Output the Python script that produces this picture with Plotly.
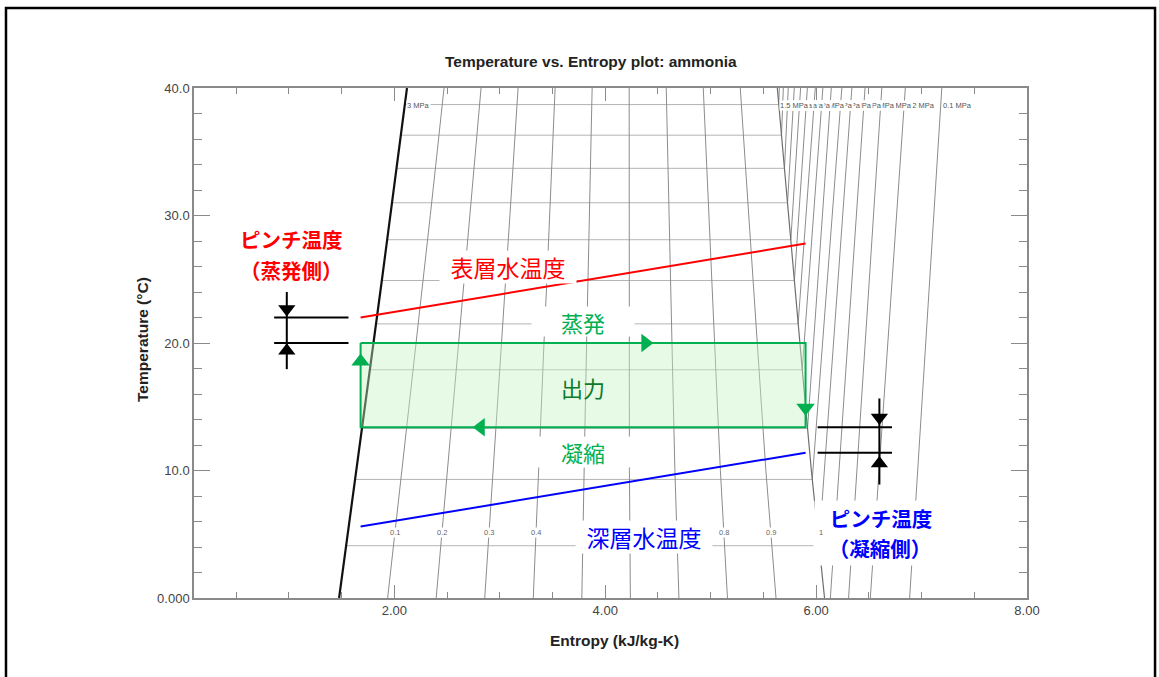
import numpy as np
import plotly.graph_objects as go

# ---------------- data ----------------
# saturation dome of ammonia: temperature (°C) vs entropy (kJ/kg-K)
sat_T = [0, 5, 10, 15, 20, 25, 30, 35, 40]
sat_s_liq = [1.476, 1.559, 1.641, 1.722, 1.802, 1.883, 1.963, 2.042, 2.120]
sat_s_vap = [6.080, 6.015, 5.955, 5.900, 5.845, 5.793, 5.740, 5.686, 5.632]

# constant-quality lines
quality_levels = [0.1, 0.2, 0.3, 0.4, 0.5, 0.6, 0.7, 0.8, 0.9]
quality_labels = ["0.1", "0.2", "0.3", "0.4", "0.5", "0.6", "0.7", "0.8", "0.9"]
vapour_label = "1"
quality_label_T = 5.1

# isobars (MPa): saturation temperature, entropy where they leave the top (40 °C)
isobar_MPa = [1.5, 1.4, 1.3, 1.2, 1.1, 1.0, 0.9, 0.8, 0.7, 0.6, 0.5, 0.4, 0.3, 0.2, 0.1]
isobar_Tsat = [38.7, 36.3, 33.7, 31.0, 28.1, 24.9, 21.5, 17.9, 13.3, 9.3, 4.1,
               -1.9, -9.2, -18.9, -33.6]
isobar_s_top = [5.651, 5.689, 5.736, 5.793, 5.853, 5.917, 5.992, 6.064, 6.144,
                6.244, 6.339, 6.464, 6.623, 6.846, 7.192]
# entropy at 0 °C for isobars whose saturation temperature is below 0 °C
isobar_s_0C = {0.4: 6.135, 0.3: 6.308, 0.2: 6.514, 0.1: 6.887}
liquid_isobar_label = "3 MPa"

# OTEC cycle
cycle_s = [1.68, 5.90]
evap_T = 20.0
cond_T = 13.4
surface_T = [22.0, 27.8]
deep_T = [5.6, 11.4]

T_top = 40.0
x_range = [0.1, 8.0]
y_range = [0.0, 40.0]

LATIN = "Arial, Liberation Sans, sans-serif"
CJK = "Noto Sans CJK JP, sans-serif"

GREEN = "#00b050"
RED = "#ff0000"
BLUE = "#0000ff"

fig = go.Figure()


def s_liq(T):
    return float(np.interp(T, sat_T, sat_s_liq))


def s_vap(T):
    return float(np.interp(T, sat_T, sat_s_vap))


def add_line(xs, ys, color, width):
    fig.add_trace(go.Scatter(x=xs, y=ys, mode="lines",
                             line=dict(color=color, width=width),
                             hoverinfo="skip", showlegend=False))


# isobars inside the dome (horizontal)
for p, Ts in zip(isobar_MPa, isobar_Tsat):
    if 0 <= Ts <= T_top:
        add_line([s_liq(Ts), s_vap(Ts)], [Ts, Ts], "#b4b4b4", 1)

# quality lines
for q in quality_levels:
    xs = [s_liq(T) + q * (s_vap(T) - s_liq(T)) for T in sat_T]
    add_line(xs, sat_T, "#8c8c8c", 1)

# superheated isobars
for p, Ts, st in zip(isobar_MPa, isobar_Tsat, isobar_s_top):
    if Ts >= 0:
        add_line([s_vap(Ts), st], [Ts, T_top], "#8c8c8c", 1)
    else:
        add_line([isobar_s_0C[p], st], [0, T_top], "#8c8c8c", 1)

# saturated vapour and liquid lines
add_line(sat_s_vap, sat_T, "#6e6e6e", 1.2)
add_line(sat_s_liq, sat_T, "#111111", 2.2)

# cycle rectangle
fig.add_trace(go.Scatter(
    x=[cycle_s[0], cycle_s[1], cycle_s[1], cycle_s[0], cycle_s[0]],
    y=[evap_T, evap_T, cond_T, cond_T, evap_T],
    mode="lines", fill="toself", fillcolor="rgba(196,244,196,0.42)",
    line=dict(color=GREEN, width=2), hoverinfo="skip", showlegend=False))

# direction arrows along the cycle
ds = cycle_s[1] - cycle_s[0]
dT = evap_T - cond_T
arrow_x = [cycle_s[0], cycle_s[0] + 0.64 * ds, cycle_s[1], cycle_s[0] + 0.27 * ds]
arrow_y = [cond_T + 0.78 * dT, evap_T, cond_T + 0.23 * dT, cond_T]
arrow_sym = ["triangle-up", "triangle-right", "triangle-down", "triangle-left"]
fig.add_trace(go.Scatter(x=arrow_x, y=arrow_y, mode="markers",
                         marker=dict(symbol=arrow_sym, size=16, color=GREEN,
                                     line=dict(width=0)),
                         hoverinfo="skip", showlegend=False))

# warm surface water and cold deep water
add_line(cycle_s, surface_T, RED, 2)
add_line(cycle_s, deep_T, BLUE, 2)

# pinch markers
pinch_L = dict(x0=0.86, x1=1.565, xa=0.98)
add_line([pinch_L["x0"], pinch_L["x1"]], [surface_T[0]] * 2, "black", 2)
add_line([pinch_L["x0"], pinch_L["x1"]], [evap_T] * 2, "black", 2)
add_line([pinch_L["xa"]] * 2, [surface_T[0] + 2.0, evap_T - 2.05], "black", 2)
fig.add_trace(go.Scatter(x=[pinch_L["xa"]] * 2,
                         y=[surface_T[0] + 0.67, evap_T - 0.6],
                         mode="markers",
                         marker=dict(symbol=["triangle-down", "triangle-up"],
                                     size=15, color="black"),
                         hoverinfo="skip", showlegend=False))

pinch_R = dict(x0=6.014, x1=6.72, xa=6.6)
add_line([pinch_R["x0"], pinch_R["x1"]], [cond_T] * 2, "black", 2)
add_line([pinch_R["x0"], pinch_R["x1"]], [deep_T[1]] * 2, "black", 2)
add_line([pinch_R["xa"]] * 2, [cond_T + 2.25, deep_T[1] - 2.5], "black", 2)
fig.add_trace(go.Scatter(x=[pinch_R["xa"]] * 2,
                         y=[cond_T + 0.75, deep_T[1] - 0.85],
                         mode="markers",
                         marker=dict(symbol=["triangle-down", "triangle-up"],
                                     size=15, color="black"),
                         hoverinfo="skip", showlegend=False))

annotations = []
SMALL_FONT = dict(family=LATIN, size=7.5, color="#555555")

# isobar labels (lowest pressure first, so higher ones sit on top)
for p, st in reversed(list(zip(isobar_MPa, isobar_s_top))):
    annotations.append(dict(x=st, y=38.6, xref="x", yref="y", text=f"{p:g} MPa",
                            showarrow=False, xanchor="left", yanchor="middle",
                            font=SMALL_FONT, bgcolor="white", borderpad=0))
annotations.append(dict(x=s_liq(T_top) - 0.01, y=38.6, xref="x", yref="y",
                        text=liquid_isobar_label, showarrow=False,
                        xanchor="left", yanchor="middle",
                        font=SMALL_FONT, bgcolor="white", borderpad=0))

# quality labels
for q, lab in zip(quality_levels, quality_labels):
    T = quality_label_T
    xq = s_liq(T) + q * (s_vap(T) - s_liq(T))
    annotations.append(dict(x=xq, y=T, xref="x", yref="y",
                            text=lab, showarrow=False,
                            font=dict(family=LATIN, size=7.5, color="#666666"),
                            bgcolor="white", borderpad=0))


def label(x, y, text, color, size, bold=False, w=None, h=None, bg=None):
    t = f"<b>{text}</b>" if bold else text
    d = dict(x=x, y=y, xref="x", yref="y", text=t, showarrow=False,
             xanchor="center", yanchor="middle",
             font=dict(family=CJK, size=size, color=color))
    if w:
        d["width"] = w
    if h:
        d["height"] = h
    if bg:
        d["bgcolor"] = bg
    annotations.append(d)


label(3.08, 25.96, "表層水温度", RED, 23, w=134, h=30, bg="white")
label(4.37, 4.78, "深層水温度", BLUE, 23, w=134, h=30, bg="white")
label(3.785, 21.67, "蒸発", GREEN, 22, w=100, h=27, bg="white")
label(3.785, 16.53, "出力", "#0b7a2a", 22)
label(3.785, 11.48, "凝縮", GREEN, 22, w=100, h=28, bg="white")
label(1.028, 28.13, "ピンチ温度", RED, 20.5, bold=True)
label(1.028, 25.73, "（蒸発側）", RED, 20.5, bold=True)
label(6.617, 6.31, "ピンチ温度", BLUE, 20.5, bold=True, w=130, h=32, bg="white")
label(6.605, 3.92, "（凝縮側）", BLUE, 20.5, bold=True, w=130, h=32, bg="white")

# label of the saturated-vapour line (quality 1), drawn above the pinch box
annotations.append(dict(x=s_vap(quality_label_T) + 0.035, y=quality_label_T,
                        xref="x", yref="y", text=vapour_label, showarrow=False,
                        font=dict(family=LATIN, size=7.5, color="#666666"),
                        bgcolor="white", borderpad=0))

# titles
TITLE_FONT = dict(family=LATIN, size=15.5, color="#222222")
annotations.append(dict(x=0.4766, y=1.0529, xref="paper", yref="paper",
                        xanchor="center", yanchor="middle",
                        text="<b>Temperature vs. Entropy plot: ammonia</b>",
                        showarrow=False, font=TITLE_FONT))
annotations.append(dict(x=0.5054, y=-0.0824, xref="paper", yref="paper",
                        xanchor="center", yanchor="middle",
                        text="<b>Entropy (kJ/kg-K)</b>",
                        showarrow=False, font=TITLE_FONT))
annotations.append(dict(x=-0.0612, y=0.506, xref="paper", yref="paper",
                        xanchor="center", yanchor="middle",
                        text="<b>Temperature (°C)</b>", textangle=-90,
                        showarrow=False, font=TITLE_FONT))

# outer frame around the whole figure
shapes = [dict(type="rect", xref="paper", yref="paper",
               x0=-0.2257, x1=1.1537, y0=-0.17, y1=1.1569,
               line=dict(color="black", width=2.5), fillcolor="rgba(0,0,0,0)")]

AX = "#8a8a8a"
fig.update_layout(
    width=1159, height=677,
    margin=dict(l=194, r=132, t=88, b=79),
    paper_bgcolor="white", plot_bgcolor="white",
    showlegend=False,
    annotations=annotations,
    shapes=shapes,
    xaxis=dict(range=x_range, tickmode="array", tickvals=[2, 4, 6, 8],
               ticktext=["2.00", "4.00", "6.00", "8.00"],
               ticks="inside", ticklen=13, tickwidth=1, tickcolor=AX,
               minor=dict(tickmode="linear", tick0=0, dtick=0.5, ticks="inside",
                          ticklen=6, tickcolor=AX, showgrid=False),
               showline=True, linecolor=AX, linewidth=1.5, mirror="ticks",
               showgrid=False, zeroline=False,
               tickfont=dict(family=LATIN, size=13, color="#444444")),
    yaxis=dict(range=y_range, tickmode="array", tickvals=[0, 10, 20, 30, 40],
               ticktext=["0.000", "10.0", "20.0", "30.0", "40.0"],
               ticks="inside", ticklen=16, tickwidth=1, tickcolor=AX,
               minor=dict(tickmode="linear", tick0=0, dtick=2, ticks="inside",
                          ticklen=8, tickcolor=AX, showgrid=False),
               showline=True, linecolor=AX, linewidth=1.5, mirror="ticks",
               showgrid=False, zeroline=False,
               tickfont=dict(family=LATIN, size=13, color="#444444")),
)

fig.write_html("out.html")
